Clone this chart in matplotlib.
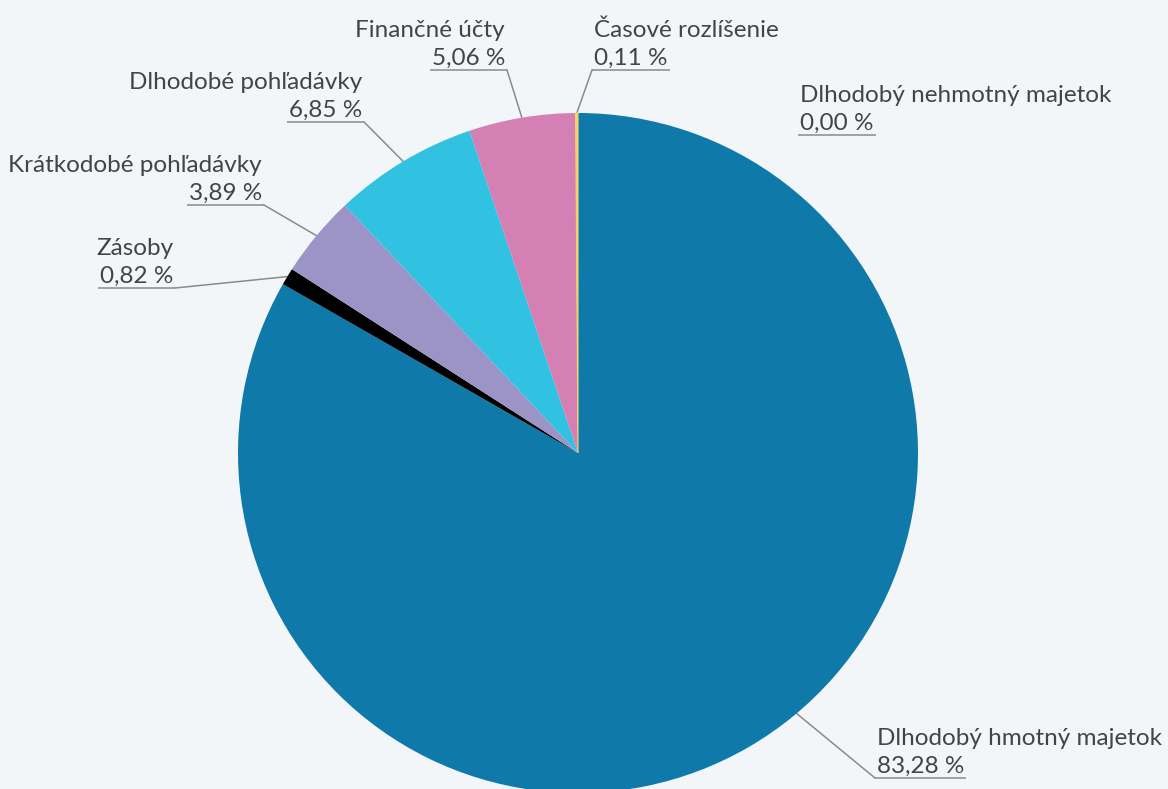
import numpy as np
import matplotlib
matplotlib.use("Agg")
import matplotlib.pyplot as plt

# data (clockwise from 12 o'clock)
labels = ['Dlhodobý nehmotný majetok', 'Dlhodobý hmotný majetok', 'Zásoby',
          'Krátkodobé pohľadávky', 'Dlhodobé pohľadávky', 'Finančné účty',
          'Časové rozlíšenie']
values = [0.00, 83.28, 0.82, 3.89, 6.85, 5.06, 0.11]
colors = ['#8fc9e0', '#0f79a9', '#000000', '#9c93c6', '#31c1e1', '#d580b4', '#f5d36a']

# label layout in image pixels (from top): text edge x, percent baseline y, alignment
lab_x = [800, 877, 173, 262, 362, 505, 594]
lab_y = [130, 773, 283, 200, 117, 65, 65]
lab_ha = ['left', 'left', 'right', 'right', 'right', 'right', 'left']
leader = [False, True, True, True, True, True, True]
anchor_deg = [None, 140, None, None, None, None, None]  # clockwise from top, None = wedge middle

W, H = 1168, 789
fig = plt.figure(figsize=(W / 100, H / 100), dpi=100)
fig.patch.set_facecolor('#f3f6f9')
ax = fig.add_axes([0, 0, 1, 1])
ax.set_facecolor('#f3f6f9')

cx, cy, r = 578, H - 453, 340
wedges, _ = ax.pie(values, colors=colors, startangle=90, counterclock=False,
                   center=(cx, cy), radius=r, wedgeprops=dict(linewidth=0))
# thin time-accrual slice is drawn a touch wider in the original
wedges[6].set_edgecolor(colors[6])
wedges[6].set_linewidth(0.8)
ax.set_xlim(0, W)
ax.set_ylim(0, H)
ax.set_aspect('equal')
ax.axis('off')

fs = 17.5
txtc = '#444444'
font = dict(family='Lato', fontweight='normal', fontsize=fs, color=txtc)

pct_texts = []
for i, lab in enumerate(labels):
    y = H - lab_y[i]
    ax.text(lab_x[i], y + 28, lab, ha=lab_ha[i], va='baseline', **font)
    pt = ax.text(lab_x[i], y, f"{values[i]:.2f}".replace('.', ',') + ' %',
                 ha=lab_ha[i], va='baseline', **font)
    pct_texts.append(pt)

fig.canvas.draw()
rend = fig.canvas.get_renderer()
inv = ax.transData.inverted()
for i, pt in enumerate(pct_texts):
    bb = pt.get_window_extent(rend)
    (x0, _), (x1, _) = inv.transform([(bb.x0, bb.y0), (bb.x1, bb.y1)])
    uy = H - lab_y[i] - 5
    ax.plot([x0 - 2, x1 + 2], [uy, uy], color='#8a8a8a', lw=1.1, solid_capstyle='butt')
    if not leader[i]:
        continue
    w = wedges[i]
    if anchor_deg[i] is None:
        th = np.deg2rad((w.theta1 + w.theta2) / 2)
    else:
        th = np.deg2rad(90 - anchor_deg[i])
    ax_, ay_ = cx + r * np.cos(th), cy + r * np.sin(th)
    ex = x1 + 2 if lab_ha[i] == 'right' else x0 - 2
    ax.plot([ex, ax_], [uy, ay_], color='#8a8a8a', lw=1.1, zorder=0.5)

fig.savefig('out.png', dpi=100, facecolor=fig.get_facecolor())
